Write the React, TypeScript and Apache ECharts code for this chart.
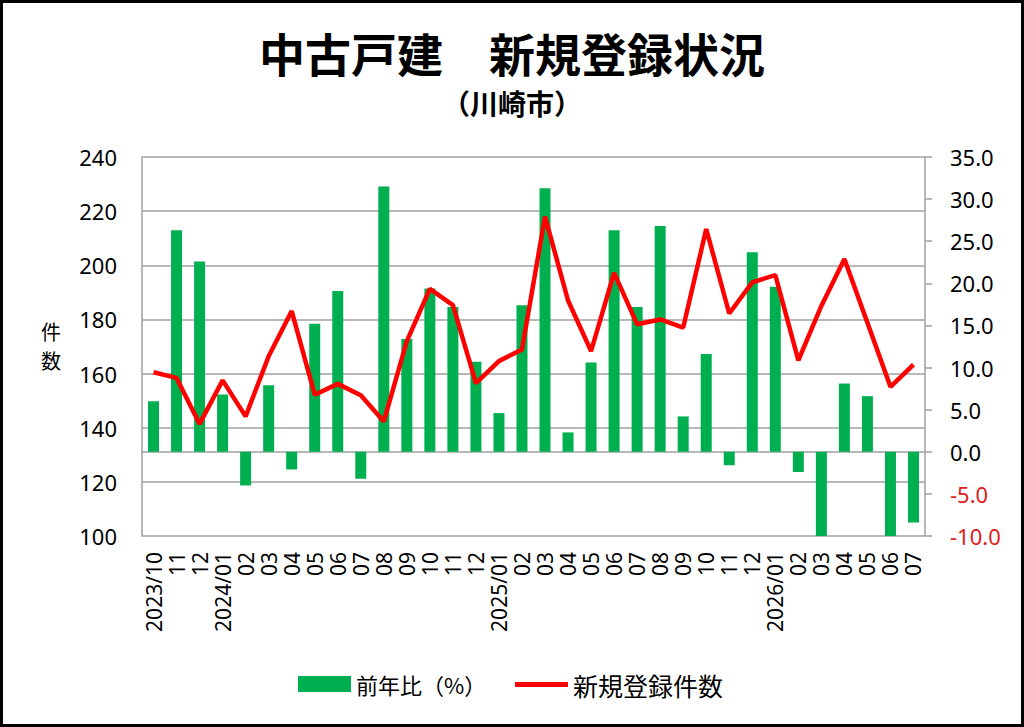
import React, { useEffect, useRef } from "react";
import * as echarts from "echarts";

const categories = [
  "2023/10", "11", "12",
  "2024/01", "02", "03", "04", "05", "06", "07", "08", "09", "10", "11", "12",
  "2025/01", "02", "03", "04", "05", "06", "07", "08", "09", "10", "11", "12",
  "2026/01", "02", "03", "04", "05", "06", "07",
];

const yoyPercent = [
  6.0, 26.3, 22.6,
  6.8, -4.0, 7.9, -2.1, 15.2, 19.1, -3.2, 31.5, 13.4, 19.4, 17.2, 10.7,
  4.6, 17.4, 31.3, 2.3, 10.6, 26.3, 17.2, 26.8, 4.2, 11.6, -1.6, 23.7,
  19.6, -2.4, -10.0, 8.1, 6.6, -10.0, -8.4,
];

const newListings = [
  160.5, 158.4, 141.4,
  157.5, 144.2, 166.4, 183.1, 152.2, 156.2, 152.0, 142.3, 172.0, 191.3, 185.3, 156.5,
  164.6, 168.9, 218.0, 187.0, 168.3, 197.2, 178.2, 180.0, 177.0, 213.4, 182.2, 193.7,
  196.4, 164.9, 185.0, 202.3, 178.8, 155.1, 163.3,
];

const titleText = "中古戸建　新規登録状況";
const subTitleText = "（川崎市）";
const barName = "前年比（%）";
const lineName = "新規登録件数";
const axisNameChars = ["件", "数"];

const CJK = '"Noto Sans CJK JP", "Noto Sans", sans-serif';
const NUM = '"Noto Sans", "DejaVu Sans", sans-serif';
const GRID_GRAY = "#A0A0A0";

export default function App() {
  const ref = useRef<HTMLDivElement>(null);

  useEffect(() => {
    if (!ref.current) return;
    const chart = echarts.init(ref.current, null, { renderer: "svg" });
    chart.setOption({
      animation: false,
      backgroundColor: "#ffffff",
      title: [
        {
          text: titleText,
          left: "center",
          top: 27,
          padding: 0,
          textStyle: { fontFamily: CJK, fontSize: 46, fontWeight: "bold", color: "#000", lineHeight: 50 },
        },
        {
          text: subTitleText,
          left: "center",
          top: 88,
          padding: 0,
          textStyle: { fontFamily: CJK, fontSize: 28, fontWeight: "bold", color: "#000", lineHeight: 30 },
        },
      ],
      legend: [
        {
          data: [{ name: barName, icon: "rect" }],
          left: 293,
          top: 668,
          itemWidth: 53,
          itemHeight: 16,
          textStyle: { fontFamily: CJK, fontSize: 22, color: "#000" },
        },
        {
          data: [{ name: lineName, icon: "rect" }],
          left: 510,
          top: 667,
          itemWidth: 53,
          itemHeight: 5,
          textStyle: { fontFamily: CJK, fontSize: 25, color: "#000" },
        },
      ],
      grid: { left: 142, right: 99, top: 157, bottom: 191, containLabel: false },
      xAxis: {
        type: "category",
        data: categories,
        boundaryGap: true,
        axisLine: { show: true, lineStyle: { color: GRID_GRAY, width: 1.5 } },
        axisTick: { show: false },
        axisLabel: {
          interval: 0,
          rotate: 90,
          margin: 16,
          fontFamily: NUM,
          fontSize: 21,
          color: "#000",
        },
      },
      yAxis: [
        {
          type: "value",
          min: 100,
          max: 240,
          interval: 20,
          position: "left",
          axisLine: { show: true, lineStyle: { color: GRID_GRAY, width: 1.5 } },
          axisTick: { show: false },
          splitLine: { show: true, lineStyle: { color: GRID_GRAY, width: 1.5 } },
          axisLabel: { margin: 25, fontFamily: NUM, fontSize: 22, color: "#000" },
        },
        {
          type: "value",
          min: -10,
          max: 35,
          interval: 5,
          position: "right",
          axisLine: { show: true, lineStyle: { color: GRID_GRAY, width: 1.5 } },
          axisTick: { show: true, length: 7, inside: false, lineStyle: { color: GRID_GRAY, width: 1.5 } },
          splitLine: { show: false },
          axisLabel: {
            margin: 25,
            fontFamily: NUM,
            fontSize: 22,
            formatter: (v: number) => v.toFixed(1),
            color: (v: any) => (Number(v) < 0 ? "#E02020" : "#000"),
          },
        },
      ],
      series: [
        {
          name: barName,
          type: "bar",
          yAxisIndex: 1,
          data: yoyPercent,
          barWidth: 11,
          itemStyle: { color: "#00B050" },
        },
        {
          name: lineName,
          type: "line",
          yAxisIndex: 0,
          data: newListings,
          showSymbol: false,
          symbol: "none",
          lineStyle: { color: "#FF0000", width: 4.5 },
          itemStyle: { color: "#FF0000" },
        },
      ],
      graphic: [
        {
          type: "rect",
          shape: { x: 1.5, y: 1.5, width: 1021, height: 724 },
          style: { fill: "none", stroke: "#000", lineWidth: 3 },
          silent: true,
        },
        ...axisNameChars.map((ch, i) => ({
          type: "text",
          x: 51,
          y: 331 + i * 29,
          style: {
            text: ch,
            font: `20px ${CJK}`,
            fill: "#000",
            textAlign: "center",
            textVerticalAlign: "middle",
          },
        })),
      ],
    });
    return () => chart.dispose();
  }, []);

  return (
    <div
      ref={ref}
      style={{ position: "fixed", left: 0, top: 0, width: 1024, height: 727, background: "#fff" }}
    />
  );
}
